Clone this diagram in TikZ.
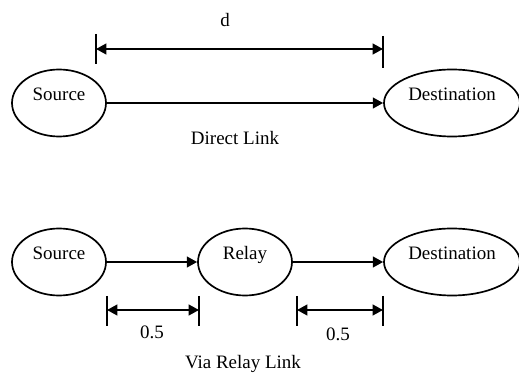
\documentclass[tikz,border=0pt]{standalone}
\usepackage{fontspec}
\setmainfont{Liberation Serif}
\usetikzlibrary{arrows.meta,shapes.geometric}

\begin{document}
\begin{tikzpicture}	[
		line width = 1.2pt,
		font = \fontsize{13.5}{16}\selectfont,
		every label/.style = {text height = 1.6ex, text depth = .4ex},
		e/.style = {
			draw,
			ellipse,
			inner sep = 0pt,
			minimum height = 1.675cm
		},
		small/.style = {e, minimum width = 2.35cm},
		big/.style = {e, minimum width = 3.4cm},
		link/.style = {
			line width = 1.4pt,
			-{Triangle[length=0.26cm,width=0.27cm]}
		},
		dim/.style = {
			line width = 1.4pt,
			{Triangle[length=0.26cm,width=0.27cm]}-{Triangle[length=0.26cm,width=0.27cm]}
		},
		tick/.style = {line width = 1.2pt}
	]
	\useasboundingbox (0,0) rectangle (12.975,9.55);

	% direct link
	\node [small, label={[yshift=.17cm]center:Source}] (s1) at (1.475,6.975){};
	\node [big, label={[yshift=.17cm]center:Destination}] (d1) at (11.3,6.975){};
	\draw [link] (s1) -- (d1);
	\node (direct) at (5.875,6.1) {Direct Link};

	\coordinate (da) at (2.4,8.325);
	\coordinate (db) at (9.575,8.325);
	\draw [tick] (2.4,8.7) -- (2.4,7.95);
	\draw [tick] (9.575,8.65) -- (9.575,7.85);
	\draw [dim] (da) -- (db);
	\node (d) at (5.625,9.05) {d};

	% via relay
	\node [small, label={[yshift=.17cm]center:Source}] (s2) at (1.475,3){};
	\node [small, label={[yshift=.17cm]center:Relay}] (r) at (6.125,3){};
	\node [big, label={[yshift=.17cm]center:Destination}] (d2) at (11.3,3){};
	\draw [link] (s2) -- (r);
	\draw [link] (r) -- (d2);

	\coordinate (h1a) at (2.675,1.8);
	\coordinate (h1b) at (4.975,1.8);
	\coordinate (h2a) at (7.425,1.8);
	\coordinate (h2b) at (9.575,1.8);
	\foreach \x in {2.675,4.975,7.425,9.575}
		\draw [tick] (\x,2.15) -- (\x,1.4);
	\draw [dim] (h1a) -- (h1b);
	\draw [dim] (h2a) -- (h2b);
	\node (half1) at (3.8,1.25) {0.5};
	\node (half2) at (8.45,1.2) {0.5};

	\node (via) at (6.075,0.45) {Via Relay Link};
\end{tikzpicture}
\end{document}
